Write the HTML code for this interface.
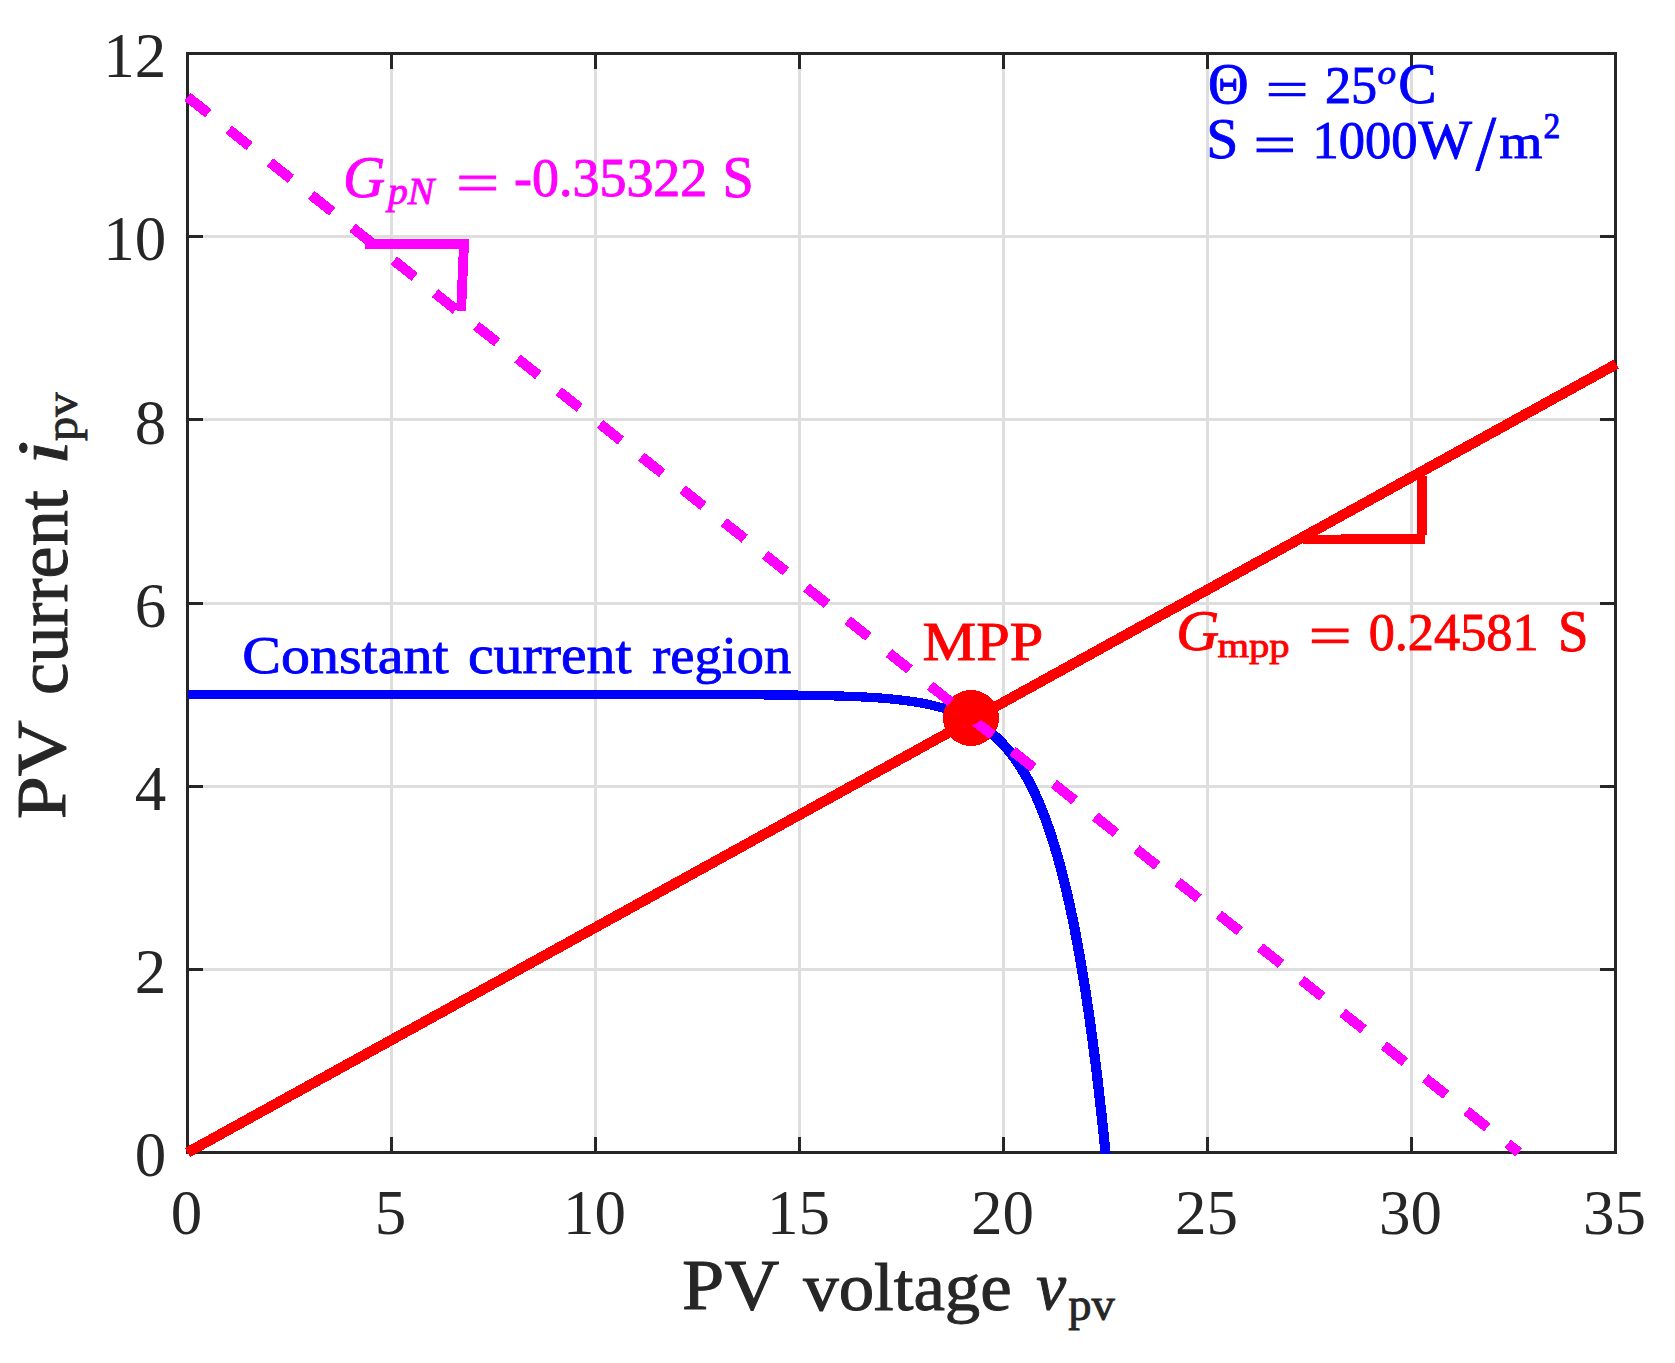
<!DOCTYPE html>
<html lang="en"><head><meta charset="utf-8"><title>PV current vs PV voltage</title>
<style>html,body{margin:0;padding:0;background:#fff}body{width:1675px;height:1363px;overflow:hidden}svg{display:block}text{font-family:"Liberation Serif","DejaVu Serif",serif}</style>
</head><body>
<svg width="1675" height="1363" viewBox="0 0 1675 1363">
<rect x="0" y="0" width="1675" height="1363" fill="#ffffff"/>
<g stroke="#dedede" stroke-width="3" fill="none">
<line x1="391.5" y1="53.5" x2="391.5" y2="1152.5"/>
<line x1="595.5" y1="53.5" x2="595.5" y2="1152.5"/>
<line x1="799.5" y1="53.5" x2="799.5" y2="1152.5"/>
<line x1="1003.5" y1="53.5" x2="1003.5" y2="1152.5"/>
<line x1="1207.5" y1="53.5" x2="1207.5" y2="1152.5"/>
<line x1="1411.5" y1="53.5" x2="1411.5" y2="1152.5"/>
<line x1="187.5" y1="969.5" x2="1615.5" y2="969.5"/>
<line x1="187.5" y1="786.5" x2="1615.5" y2="786.5"/>
<line x1="187.5" y1="603.5" x2="1615.5" y2="603.5"/>
<line x1="187.5" y1="419.5" x2="1615.5" y2="419.5"/>
<line x1="187.5" y1="236.5" x2="1615.5" y2="236.5"/>
</g>
<g stroke="#262626" stroke-width="3" fill="none">
<rect x="187.5" y="53.5" width="1428.0" height="1099.0"/>
<line x1="391.5" y1="1152.5" x2="391.5" y2="1137.0"/>
<line x1="391.5" y1="53.5" x2="391.5" y2="69.0"/>
<line x1="595.5" y1="1152.5" x2="595.5" y2="1137.0"/>
<line x1="595.5" y1="53.5" x2="595.5" y2="69.0"/>
<line x1="799.5" y1="1152.5" x2="799.5" y2="1137.0"/>
<line x1="799.5" y1="53.5" x2="799.5" y2="69.0"/>
<line x1="1003.5" y1="1152.5" x2="1003.5" y2="1137.0"/>
<line x1="1003.5" y1="53.5" x2="1003.5" y2="69.0"/>
<line x1="1207.5" y1="1152.5" x2="1207.5" y2="1137.0"/>
<line x1="1207.5" y1="53.5" x2="1207.5" y2="69.0"/>
<line x1="1411.5" y1="1152.5" x2="1411.5" y2="1137.0"/>
<line x1="1411.5" y1="53.5" x2="1411.5" y2="69.0"/>
<line x1="187.5" y1="969.5" x2="203.0" y2="969.5"/>
<line x1="1615.5" y1="969.5" x2="1600.0" y2="969.5"/>
<line x1="187.5" y1="786.5" x2="203.0" y2="786.5"/>
<line x1="1615.5" y1="786.5" x2="1600.0" y2="786.5"/>
<line x1="187.5" y1="603.5" x2="203.0" y2="603.5"/>
<line x1="1615.5" y1="603.5" x2="1600.0" y2="603.5"/>
<line x1="187.5" y1="419.5" x2="203.0" y2="419.5"/>
<line x1="1615.5" y1="419.5" x2="1600.0" y2="419.5"/>
<line x1="187.5" y1="236.5" x2="203.0" y2="236.5"/>
<line x1="1615.5" y1="236.5" x2="1600.0" y2="236.5"/>
</g>
<g fill="#262626" font-size="63">
<text x="186.5" y="1233.6" text-anchor="middle">0</text>
<text x="390.5" y="1233.6" text-anchor="middle">5</text>
<text x="594.5" y="1233.6" text-anchor="middle">10</text>
<text x="798.5" y="1233.6" text-anchor="middle">15</text>
<text x="1002.5" y="1233.6" text-anchor="middle">20</text>
<text x="1206.5" y="1233.6" text-anchor="middle">25</text>
<text x="1410.5" y="1233.6" text-anchor="middle">30</text>
<text x="1614.5" y="1233.6" text-anchor="middle">35</text>
<text x="166.2" y="1176.2" text-anchor="end">0</text>
<text x="166.2" y="993.0" text-anchor="end">2</text>
<text x="166.2" y="809.9" text-anchor="end">4</text>
<text x="166.2" y="626.7" text-anchor="end">6</text>
<text x="166.2" y="443.5" text-anchor="end">8</text>
<text x="166.2" y="260.4" text-anchor="end">10</text>
<text x="166.2" y="77.2" text-anchor="end">12</text>
</g>
<clipPath id="ax"><rect x="186.0" y="52.0" width="1431.0" height="1101.6"/></clipPath>
<g shape-rendering="crispEdges">
<g clip-path="url(#ax)">
<path d="M187.50 694.58 L197.70 694.58 L207.90 694.58 L218.10 694.58 L228.30 694.58 L238.50 694.58 L248.70 694.58 L258.90 694.58 L269.10 694.58 L279.30 694.58 L289.50 694.58 L299.70 694.58 L309.90 694.58 L320.10 694.58 L330.30 694.58 L340.50 694.58 L350.70 694.58 L360.90 694.58 L371.10 694.58 L381.30 694.58 L391.50 694.58 L401.70 694.58 L411.90 694.58 L422.10 694.58 L432.30 694.58 L442.50 694.58 L452.70 694.58 L462.90 694.58 L473.10 694.58 L483.30 694.58 L493.50 694.58 L503.70 694.58 L513.90 694.58 L524.10 694.58 L534.30 694.59 L544.50 694.59 L554.70 694.59 L564.90 694.59 L575.10 694.59 L585.30 694.59 L595.50 694.59 L605.70 694.59 L615.90 694.59 L626.10 694.60 L636.30 694.60 L646.50 694.61 L656.70 694.61 L666.90 694.62 L677.10 694.63 L687.30 694.64 L697.50 694.65 L707.70 694.67 L717.90 694.69 L728.10 694.71 L738.30 694.74 L748.50 694.78 L758.70 694.83 L768.90 694.89 L779.10 694.97 L789.30 695.06 L799.50 695.18 L800.32 695.19 L801.13 695.21 L801.95 695.22 L802.76 695.23 L803.58 695.24 L804.40 695.25 L805.21 695.26 L806.03 695.27 L806.84 695.29 L807.66 695.30 L808.48 695.31 L809.29 695.33 L810.11 695.34 L810.92 695.35 L811.74 695.37 L812.56 695.38 L813.37 695.39 L814.19 695.41 L815.00 695.42 L815.82 695.44 L816.64 695.45 L817.45 695.47 L818.27 695.49 L819.08 695.50 L819.90 695.52 L820.72 695.53 L821.53 695.55 L822.35 695.57 L823.16 695.59 L823.98 695.60 L824.80 695.62 L825.61 695.64 L826.43 695.66 L827.24 695.68 L828.06 695.70 L828.88 695.72 L829.69 695.74 L830.51 695.76 L831.32 695.78 L832.14 695.80 L832.96 695.82 L833.77 695.85 L834.59 695.87 L835.40 695.89 L836.22 695.91 L837.04 695.94 L837.85 695.96 L838.67 695.99 L839.48 696.01 L840.30 696.04 L841.12 696.06 L841.93 696.09 L842.75 696.12 L843.56 696.14 L844.38 696.17 L845.20 696.20 L846.01 696.23 L846.83 696.26 L847.64 696.29 L848.46 696.32 L849.28 696.35 L850.09 696.38 L850.91 696.41 L851.72 696.45 L852.54 696.48 L853.36 696.51 L854.17 696.55 L854.99 696.58 L855.80 696.62 L856.62 696.66 L857.44 696.69 L858.25 696.73 L859.07 696.77 L859.88 696.81 L860.70 696.85 L861.52 696.89 L862.33 696.93 L863.15 696.97 L863.96 697.01 L864.78 697.06 L865.60 697.10 L866.41 697.15 L867.23 697.19 L868.04 697.24 L868.86 697.29 L869.68 697.33 L870.49 697.38 L871.31 697.43 L872.12 697.48 L872.94 697.54 L873.76 697.59 L874.57 697.64 L875.39 697.70 L876.20 697.75 L877.02 697.81 L877.84 697.87 L878.65 697.92 L879.47 697.98 L880.28 698.04 L881.10 698.11 L881.92 698.17 L882.73 698.23 L883.55 698.30 L884.36 698.37 L885.18 698.43 L886.00 698.50 L886.81 698.57 L887.63 698.64 L888.44 698.72 L889.26 698.79 L890.08 698.86 L890.89 698.94 L891.71 699.02 L892.52 699.10 L893.34 699.18 L894.16 699.26 L894.97 699.34 L895.79 699.43 L896.60 699.52 L897.42 699.60 L898.24 699.69 L899.05 699.78 L899.87 699.88 L900.68 699.97 L901.50 700.07 L902.32 700.17 L903.13 700.27 L903.95 700.37 L904.76 700.47 L905.58 700.58 L906.40 700.68 L907.21 700.79 L908.03 700.90 L908.84 701.01 L909.66 701.13 L910.48 701.25 L911.29 701.37 L912.11 701.49 L912.92 701.61 L913.74 701.74 L914.56 701.86 L915.37 701.99 L916.19 702.13 L917.00 702.26 L917.82 702.40 L918.64 702.54 L919.45 702.68 L920.27 702.82 L921.08 702.97 L921.90 703.12 L922.72 703.27 L923.53 703.43 L924.35 703.59 L925.16 703.75 L925.98 703.91 L926.80 704.08 L927.61 704.25 L928.43 704.42 L929.24 704.59 L930.06 704.77 L930.88 704.95 L931.69 705.14 L932.51 705.33 L933.32 705.52 L934.14 705.72 L934.96 705.91 L935.77 706.12 L936.59 706.32 L937.40 706.53 L938.22 706.75 L939.04 706.96 L939.85 707.18 L940.67 707.41 L941.48 707.64 L942.30 707.87 L943.12 708.11 L943.93 708.35 L944.75 708.60 L945.56 708.85 L946.38 709.10 L947.20 709.36 L948.01 709.62 L948.83 709.89 L949.64 710.17 L950.46 710.44 L951.28 710.73 L952.09 711.02 L952.91 711.31 L953.72 711.61 L954.54 711.91 L955.36 712.22 L956.17 712.54 L956.99 712.86 L957.80 713.18 L958.62 713.52 L959.44 713.85 L960.25 714.20 L961.07 714.55 L961.88 714.90 L962.70 715.27 L963.52 715.64 L964.33 716.01 L965.15 716.39 L965.96 716.78 L966.78 717.18 L967.60 717.58 L968.41 718.00 L969.23 718.41 L970.04 718.84 L970.86 719.27 L971.68 719.71 L972.49 720.16 L973.31 720.62 L974.12 721.08 L974.94 721.56 L975.76 722.04 L976.57 722.53 L977.39 723.03 L978.20 723.53 L979.02 724.05 L979.84 724.58 L980.65 725.11 L981.47 725.66 L982.28 726.21 L983.10 726.78 L983.92 727.35 L984.73 727.94 L985.55 728.53 L986.36 729.14 L987.18 729.76 L988.00 730.39 L988.81 731.03 L989.63 731.68 L990.44 732.34 L991.26 733.01 L992.08 733.70 L992.89 734.40 L993.71 735.11 L994.52 735.83 L995.34 736.57 L996.16 737.32 L996.97 738.08 L997.79 738.86 L998.60 739.65 L999.42 740.45 L1000.24 741.27 L1001.05 742.11 L1001.87 742.95 L1002.68 743.82 L1003.50 744.70 L1004.32 745.59 L1005.13 746.50 L1005.95 747.43 L1006.76 748.37 L1007.58 749.33 L1008.40 750.31 L1009.21 751.31 L1010.03 752.32 L1010.84 753.35 L1011.66 754.40 L1012.48 755.47 L1013.29 756.56 L1014.11 757.66 L1014.92 758.79 L1015.74 759.94 L1016.56 761.10 L1017.37 762.29 L1018.19 763.50 L1019.00 764.73 L1019.82 765.98 L1020.64 767.26 L1021.45 768.55 L1022.27 769.88 L1023.08 771.22 L1023.90 772.59 L1024.72 773.98 L1025.53 775.40 L1026.35 776.84 L1027.16 778.31 L1027.98 779.81 L1028.80 781.33 L1029.61 782.88 L1030.43 784.45 L1031.24 786.06 L1032.06 787.69 L1032.88 789.35 L1033.69 791.05 L1034.51 792.77 L1035.32 794.52 L1036.14 796.31 L1036.96 798.12 L1037.77 799.97 L1038.59 801.85 L1039.40 803.77 L1040.22 805.72 L1041.04 807.70 L1041.85 809.72 L1042.67 811.78 L1043.48 813.87 L1044.30 816.00 L1045.12 818.17 L1045.93 820.38 L1046.75 822.62 L1047.56 824.91 L1048.38 827.24 L1049.20 829.61 L1050.01 832.02 L1050.83 834.47 L1051.64 836.97 L1052.46 839.51 L1053.28 842.10 L1054.09 844.73 L1054.91 847.42 L1055.72 850.14 L1056.54 852.92 L1057.36 855.75 L1058.17 858.63 L1058.99 861.56 L1059.80 864.54 L1060.62 867.57 L1061.44 870.66 L1062.25 873.81 L1063.07 877.01 L1063.88 880.26 L1064.70 883.58 L1065.52 886.96 L1066.33 890.39 L1067.15 893.89 L1067.96 897.45 L1068.78 901.07 L1069.60 904.76 L1070.41 908.51 L1071.23 912.33 L1072.04 916.22 L1072.86 920.17 L1073.68 924.20 L1074.49 928.30 L1075.31 932.48 L1076.12 936.72 L1076.94 941.05 L1077.76 945.45 L1078.57 949.93 L1079.39 954.49 L1080.20 959.13 L1081.02 963.85 L1081.84 968.66 L1082.65 973.56 L1083.47 978.54 L1084.28 983.61 L1085.10 988.77 L1085.92 994.02 L1086.73 999.37 L1087.55 1004.81 L1088.36 1010.35 L1089.18 1015.99 L1090.00 1021.73 L1090.81 1027.57 L1091.63 1033.52 L1092.44 1039.57 L1093.26 1045.73 L1094.08 1052.00 L1094.89 1058.38 L1095.71 1064.88 L1096.52 1071.49 L1097.34 1078.22 L1098.16 1085.07 L1098.97 1092.04 L1099.79 1099.14 L1100.60 1106.36 L1101.42 1113.72 L1102.24 1121.20 L1103.05 1128.82 L1103.87 1136.57 L1104.68 1144.47 L1105.50 1152.50 L1106.32 1160.68" fill="none" stroke="#0000ff" stroke-width="9.3" stroke-linejoin="round"/>
<path d="M971.68 719.71 L972.49 720.16 L973.31 720.62 L974.12 721.08 L974.94 721.56 L975.76 722.04 L976.57 722.53 L977.39 723.03 L978.20 723.53 L979.02 724.05 L979.84 724.58 L980.65 725.11 L981.47 725.66 L982.28 726.21 L983.10 726.78 L983.92 727.35 L984.73 727.94 L985.55 728.53 L986.36 729.14 L987.18 729.76 L988.00 730.39 L988.81 731.03 L989.63 731.68 L990.44 732.34 L991.26 733.01 L992.08 733.70 L992.89 734.40 L993.71 735.11 L994.52 735.83 L995.34 736.57 L996.16 737.32 L996.97 738.08 L997.79 738.86 L998.60 739.65 L999.42 740.45 L1000.24 741.27 L1001.05 742.11 L1001.87 742.95 L1002.68 743.82 L1003.50 744.70 L1004.32 745.59 L1005.13 746.50 L1005.95 747.43 L1006.76 748.37 L1007.58 749.33 L1008.40 750.31 L1009.21 751.31 L1010.03 752.32 L1010.84 753.35 L1011.66 754.40 L1012.48 755.47 L1013.29 756.56 L1014.11 757.66 L1014.92 758.79 L1015.74 759.94 L1016.56 761.10 L1017.37 762.29 L1018.19 763.50 L1019.00 764.73 L1019.82 765.98 L1020.64 767.26 L1021.45 768.55 L1022.27 769.88 L1023.08 771.22 L1023.90 772.59 L1024.72 773.98 L1025.53 775.40 L1026.35 776.84 L1027.16 778.31 L1027.98 779.81 L1028.80 781.33 L1029.61 782.88 L1030.43 784.45 L1031.24 786.06 L1032.06 787.69 L1032.88 789.35 L1033.69 791.05 L1034.51 792.77 L1035.32 794.52 L1036.14 796.31 L1036.96 798.12 L1037.77 799.97 L1038.59 801.85 L1039.40 803.77 L1040.22 805.72 L1041.04 807.70 L1041.85 809.72 L1042.67 811.78 L1043.48 813.87 L1044.30 816.00 L1045.12 818.17 L1045.93 820.38 L1046.75 822.62 L1047.56 824.91 L1048.38 827.24 L1049.20 829.61 L1050.01 832.02 L1050.83 834.47 L1051.64 836.97 L1052.46 839.51 L1053.28 842.10 L1054.09 844.73 L1054.91 847.42 L1055.72 850.14 L1056.54 852.92 L1057.36 855.75 L1058.17 858.63 L1058.99 861.56 L1059.80 864.54 L1060.62 867.57 L1061.44 870.66 L1062.25 873.81 L1063.07 877.01 L1063.88 880.26 L1064.70 883.58 L1065.52 886.96 L1066.33 890.39 L1067.15 893.89 L1067.96 897.45 L1068.78 901.07 L1069.60 904.76 L1070.41 908.51 L1071.23 912.33 L1072.04 916.22 L1072.86 920.17 L1073.68 924.20 L1074.49 928.30 L1075.31 932.48 L1076.12 936.72 L1076.94 941.05 L1077.76 945.45 L1078.57 949.93 L1079.39 954.49 L1080.20 959.13 L1081.02 963.85 L1081.84 968.66 L1082.65 973.56 L1083.47 978.54 L1084.28 983.61 L1085.10 988.77 L1085.92 994.02 L1086.73 999.37 L1087.55 1004.81 L1088.36 1010.35 L1089.18 1015.99 L1090.00 1021.73 L1090.81 1027.57 L1091.63 1033.52 L1092.44 1039.57 L1093.26 1045.73 L1094.08 1052.00 L1094.89 1058.38 L1095.71 1064.88 L1096.52 1071.49 L1097.34 1078.22 L1098.16 1085.07 L1098.97 1092.04 L1099.79 1099.14 L1100.60 1106.36 L1101.42 1113.72 L1102.24 1121.20 L1103.05 1128.82 L1103.87 1136.57 L1104.68 1144.47 L1105.50 1152.50 L1106.32 1160.68" fill="none" stroke="#0000ff" stroke-width="10.2" stroke-linejoin="round"/>
</g>
<circle cx="971" cy="718" r="28" fill="#ff0000"/>
<line x1="187.50" y1="96.90" x2="1518.87" y2="1152.50" stroke="#ff00ff" stroke-width="10.2" stroke-dasharray="26.6 26.05"/>
<line x1="187.50" y1="1152.50" x2="1616.30" y2="364.13" stroke="#ff0000" stroke-width="10.4"/>
<path d="M365 244 L464 244 L461.1 310.7" fill="none" stroke="#ff00ff" stroke-width="9.8" stroke-linejoin="miter"/>
<path d="M1303 539.5 L1424.9 538.9" fill="none" stroke="#ff0000" stroke-width="9.6"/>
<path d="M1422 476 L1422 535" fill="none" stroke="#ff0000" stroke-width="10"/>
</g>
<text transform="matrix(0.5625 0 0 0.5731 1207.90 102.98)" font-size="100" fill="#0000ff" stroke="#0000ff" stroke-width="1.59">Θ</text>
<text transform="matrix(0.7656 0 0 0.5200 1265.42 106.81)" font-size="100" fill="#0000ff" stroke="#0000ff" stroke-width="1.43">=</text>
<text transform="matrix(0.5224 0 0 0.5313 1324.90 102.72)" font-size="100" fill="#0000ff" stroke="#0000ff" stroke-width="1.71">25</text>
<text transform="matrix(0.3682 0 0 0.3396 1377.45 84.01)" font-size="100" fill="#0000ff" stroke="#0000ff" stroke-width="2.55" font-style="italic">o</text>
<text transform="matrix(0.5737 0 0 0.5731 1398.36 102.98)" font-size="100" fill="#0000ff" stroke="#0000ff" stroke-width="1.57">C</text>
<text transform="matrix(0.5767 0 0 0.5806 1206.20 158.47)" font-size="100" fill="#0000ff" stroke="#0000ff" stroke-width="1.56">S</text>
<text transform="matrix(0.7613 0 0 0.5480 1253.34 162.78)" font-size="100" fill="#0000ff" stroke="#0000ff" stroke-width="1.39">=</text>
<text transform="matrix(0.5257 0 0 0.5215 1312.52 157.83)" font-size="100" fill="#0000ff" stroke="#0000ff" stroke-width="1.72">1000</text>
<text transform="matrix(0.5670 0 0 0.5504 1418.45 157.52)" font-size="100" fill="#0000ff" stroke="#0000ff" stroke-width="1.61">W</text>
<text transform="matrix(0.7309 0 0 0.7774 1475.65 169.37)" font-size="100" fill="#0000ff" stroke="#0000ff" stroke-width="1.19">/</text>
<text transform="matrix(0.5554 0 0 0.4766 1499.14 157.85)" font-size="100" fill="#0000ff" stroke="#0000ff" stroke-width="1.75">m</text>
<text transform="matrix(0.3350 0 0 0.3485 1543.44 137.95)" font-size="100" fill="#0000ff" stroke="#0000ff" stroke-width="2.63">2</text>
<text transform="matrix(0.5845 0 0 0.5821 342.94 196.57)" font-size="100" fill="#ff00ff" stroke="#ff00ff" stroke-width="1.54" font-style="italic">G</text>
<text transform="matrix(0.3969 0 0 0.3792 387.93 203.50)" font-size="100" fill="#ff00ff" stroke="#ff00ff" stroke-width="2.32" font-style="italic">pN</text>
<text transform="matrix(0.7699 0 0 0.5600 456.10 201.73)" font-size="100" fill="#ff00ff" stroke="#ff00ff" stroke-width="1.37">=</text>
<text transform="matrix(0.5395 0 0 0.5412 514.06 196.34)" font-size="100" fill="#ff00ff" stroke="#ff00ff" stroke-width="1.67">-0.35322</text>
<text transform="matrix(0.5628 0 0 0.5881 722.59 197.06)" font-size="100" fill="#ff00ff" stroke="#ff00ff" stroke-width="1.56">S</text>
<text transform="matrix(0.5801 0 0 0.5335 242.33 673.40)" font-size="100" fill="#0000ff" stroke="#0000ff" stroke-width="1.62">Constant</text>
<text transform="matrix(0.5777 0 0 0.5421 467.94 673.40)" font-size="100" fill="#0000ff" stroke="#0000ff" stroke-width="1.61">current</text>
<text transform="matrix(0.5437 0 0 0.5176 652.26 673.40)" font-size="100" fill="#0000ff" stroke="#0000ff" stroke-width="1.70">region</text>
<text transform="matrix(0.6031 0 0 0.5511 922.54 659.55)" font-size="100" fill="#ff0000" stroke="#ff0000" stroke-width="1.56">MPP</text>
<text transform="matrix(0.5953 0 0 0.5791 1176.18 650.27)" font-size="100" fill="#ff0000" stroke="#ff0000" stroke-width="1.53" font-style="italic">G</text>
<text transform="matrix(0.4064 0 0 0.3394 1217.44 657.00)" font-size="100" fill="#ff0000" stroke="#ff0000" stroke-width="2.42">mpp</text>
<text transform="matrix(0.7677 0 0 0.5480 1308.61 654.38)" font-size="100" fill="#ff0000" stroke="#ff0000" stroke-width="1.39">=</text>
<text transform="matrix(0.5229 0 0 0.5338 1368.66 650.05)" font-size="100" fill="#ff0000" stroke="#ff0000" stroke-width="1.70">0.24581</text>
<text transform="matrix(0.5488 0 0 0.5881 1557.88 650.86)" font-size="100" fill="#ff0000" stroke="#ff0000" stroke-width="1.58">S</text>
<text transform="matrix(0.7603 0 0 0.7104 682.12 1308.53)" font-size="100" fill="#262626" stroke="#262626" stroke-width="1.36">PV</text>
<text transform="matrix(0.7086 0 0 0.6826 803.20 1310.10)" font-size="100" fill="#262626" stroke="#262626" stroke-width="1.44">voltage</text>
<text transform="matrix(0.6721 0 0 0.6753 1036.19 1309.42)" font-size="100" fill="#262626" stroke="#262626" stroke-width="1.48" font-style="italic">v</text>
<text transform="matrix(0.4660 0 0 0.4692 1068.15 1320.00)" font-size="100" fill="#262626" stroke="#262626" stroke-width="1.92">pv</text>
<g transform="translate(66.9 817.5) rotate(-90)">
<text transform="matrix(0.7757 0 0 0.6940 -1.83 -1.54)" font-size="100" fill="#262626" stroke="#262626" stroke-width="1.36">PV</text>
<text transform="matrix(0.7239 0 0 0.7099 122.50 0.00)" font-size="100" fill="#262626" stroke="#262626" stroke-width="1.39">current</text>
<text transform="matrix(0.8842 0 0 0.7182 352.44 0.40)" font-size="100" fill="#262626" stroke="#262626" stroke-width="1.25" font-style="italic">i</text>
<text transform="matrix(0.4853 0 0 0.4538 376.52 10.50)" font-size="100" fill="#262626" stroke="#262626" stroke-width="1.92">pv</text>
</g>
</svg>
</body></html>
